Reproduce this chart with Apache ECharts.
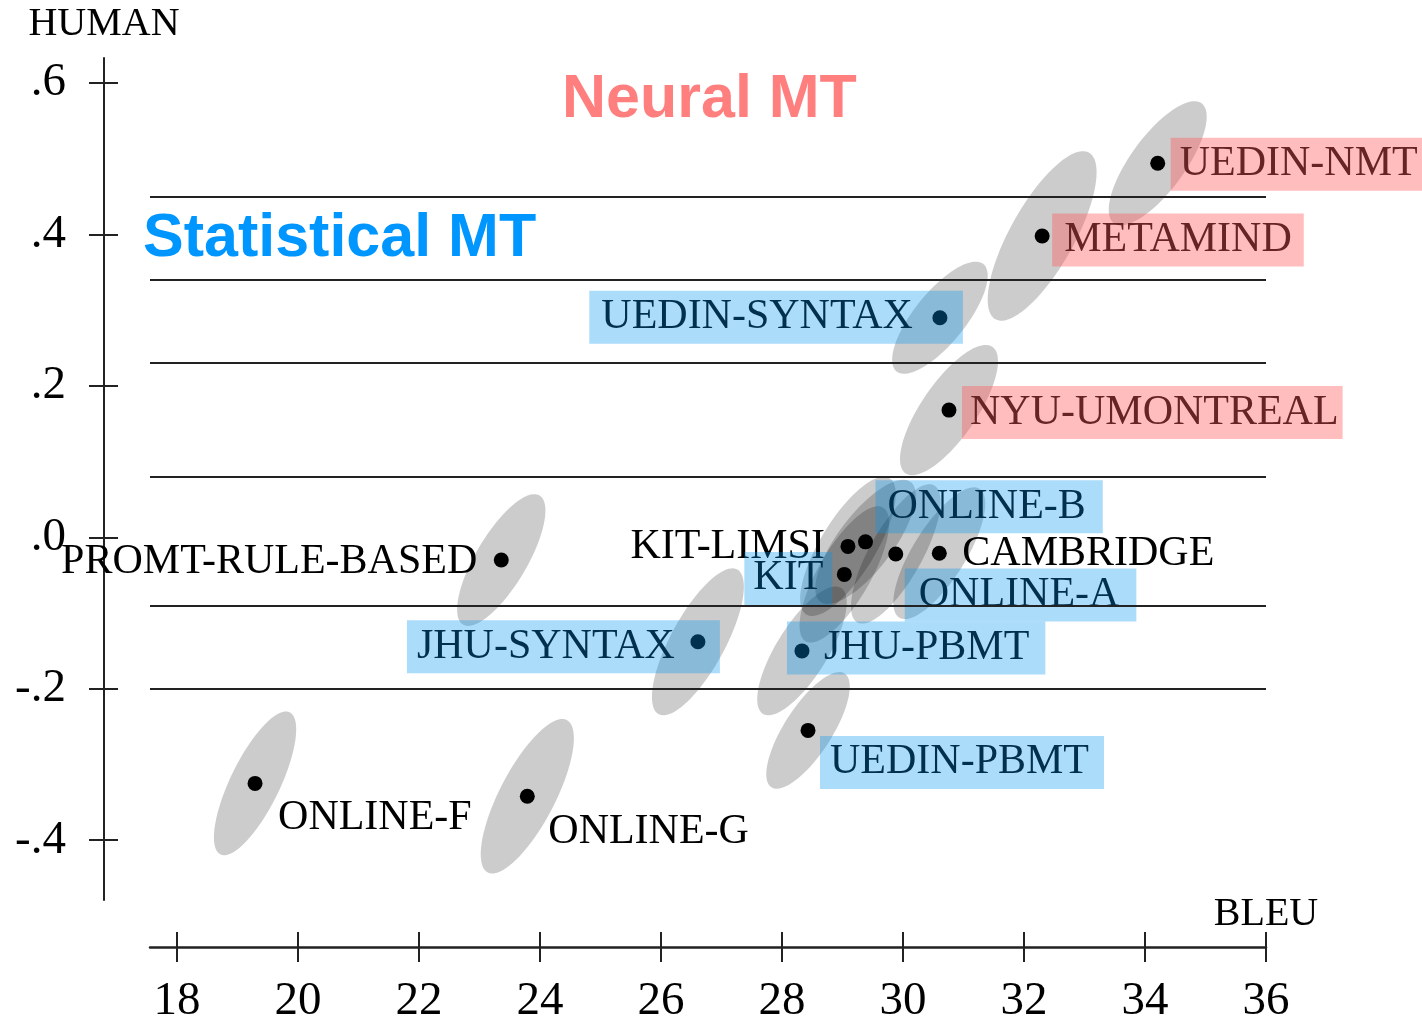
<!DOCTYPE html>
<html>
<head>
<meta charset="utf-8">
<title>BLEU vs HUMAN</title>
<script src="https://cdn.jsdelivr.net/npm/echarts@6/dist/echarts.min.js"></script>
<style>
  html, body { margin: 0; padding: 0; background: #fff; }
  #chart { width: 1422px; height: 1021px; }
</style>
</head>
<body>
<div id="chart"></div>
<script>
// systems, scores
var systems = ['ONLINE-F', 'ONLINE-G', 'PROMT-RULE-BASED', 'JHU-SYNTAX', 'UEDIN-PBMT', 'JHU-PBMT',
  'KIT-LIMSI', 'KIT', 'ONLINE-A', 'CAMBRIDGE', 'ONLINE-B', 'NYU-UMONTREAL', 'UEDIN-SYNTAX', 'METAMIND', 'UEDIN-NMT'];
var bleu  = [19.29, 23.79, 23.36, 26.61, 28.43, 28.33, 29.09, 29.03, 29.88, 30.60, 29.38, 30.76, 30.61, 32.30, 34.21];
var human = [-0.325, -0.342, -0.030, -0.138, -0.255, -0.150, -0.012, -0.049, -0.022, -0.021, -0.006, 0.168, 0.290, 0.398, 0.494];
// kind of system: nmt (red box), smt (blue box), plain
var kinds = ['plain', 'plain', 'plain', 'smt', 'smt', 'smt', 'plain', 'smt', 'smt', 'plain', 'smt', 'nmt', 'smt', 'nmt', 'nmt'];
// half spread of the confidence ellipses (BLEU units, HUMAN units)
var spreadBleu  = [0.68, 0.77, 0.73, 0.76, 0.69, 0.74, 0.79, 0.74, 0.74, 0.76, 0.83, 0.81, 0.79, 0.90, 0.81];
var spreadHuman = [0.095, 0.102, 0.087, 0.097, 0.077, 0.085, 0.092, 0.090, 0.092, 0.087, 0.082, 0.086, 0.074, 0.112, 0.082];
// cluster boundaries
var clusterLines = [0.445, 0.344, 0.229, 0.081, -0.0935, -0.202];
// ticks
var xTicks = [18, 20, 22, 24, 26, 28, 30, 32, 34, 36];
var yTicks = [-0.4, -0.2, 0, 0.2, 0.4, 0.6];

var SERIF = '"Liberation Serif", "Times New Roman", serif';
var SANS = '"Liberation Sans", Arial, Helvetica, sans-serif';
var RHO = 0.75;

// label placement relative to the dot (pixels)
var labelLayout = {
  'UEDIN-NMT':        { align: 'left',  dx: 13,  dy: 1,   pad: [6, 8, 6, 9] },
  'METAMIND':         { align: 'left',  dx: 10,  dy: 4,   pad: [6, 12, 6, 12] },
  'NYU-UMONTREAL':    { align: 'left',  dx: 13,  dy: 2.5, pad: [6, 4, 6, 8] },
  'UEDIN-SYNTAX':     { align: 'right', dx: 23,  dy: -0.5, pad: [6, 50, 6, 12] },
  'ONLINE-B':         { align: 'left',  dx: 10,  dy: -35, pad: [6, 17, 6, 12] },
  'KIT':              { align: 'right', dx: -12, dy: 4,   pad: [6, 9, 6, 9] },
  'ONLINE-A':         { align: 'left',  dx: 9,   dy: 41,  pad: [6, 17, 6, 14] },
  'JHU-PBMT':         { align: 'left',  dx: -15, dy: -3,  pad: [6, 16, 6, 37] },
  'JHU-SYNTAX':       { align: 'right', dx: 22,  dy: 5,   pad: [6, 45, 6, 10] },
  'UEDIN-PBMT':       { align: 'left',  dx: 12,  dy: 32,  pad: [6, 15, 6, 10] },
  'KIT-LIMSI':        { align: 'right', dx: -23, dy: 1 },
  'CAMBRIDGE':        { align: 'left',  dx: 23,  dy: 1 },
  'PROMT-RULE-BASED': { align: 'right', dx: -24, dy: 2 },
  'ONLINE-F':         { align: 'left',  dx: 23,  dy: 35 },
  'ONLINE-G':         { align: 'left',  dx: 21,  dy: 35.5 }
};
var boxStyle = {
  nmt: { color: '#662424', bg: 'rgba(255,90,90,0.4)' },
  smt: { color: '#00304e', bg: 'rgba(0,150,240,0.33)' },
  plain: { color: '#000', bg: 'transparent' }
};

var chart = echarts.init(document.getElementById('chart'));

var ellipseData = systems.map(function (n, i) {
  return [bleu[i], human[i], spreadBleu[i], spreadHuman[i]];
});

var pointData = systems.map(function (n, i) {
  var L = labelLayout[n];
  var s = boxStyle[kinds[i]];
  return {
    name: n,
    value: [bleu[i], human[i]],
    label: {
      show: true,
      formatter: '{b}',
      position: 'inside',
      align: L.align,
      verticalAlign: 'middle',
      offset: [L.dx, L.dy],
      fontFamily: SERIF,
      fontSize: 42,
      lineHeight: 41,
      color: s.color,
      opacity: 1,
      backgroundColor: s.bg,
      padding: L.pad || 0,
      textBorderWidth: 0
    }
  };
});

function yFmt(v) {
  return v.toFixed(1).replace('0.', '.');
}

chart.setOption({
  animation: false,
  backgroundColor: '#fff',
  title: [
    { text: 'Neural MT', left: 562, top: 70, padding: 0,
      textStyle: { fontFamily: SANS, fontWeight: 'bold', fontSize: 61, color: '#ff7f7f' } },
    { text: 'Statistical MT', left: 143, top: 209, padding: 0,
      textStyle: { fontFamily: SANS, fontWeight: 'bold', fontSize: 61, color: '#0096ff' } }
  ],
  grid: { left: 150, right: 156, top: 58, bottom: 121, containLabel: false, outerBoundsMode: 'none' },
  xAxis: [
    {
      type: 'value', min: 17.5537, max: 36, position: 'bottom', offset: 47,
      name: 'BLEU', nameLocation: 'end', nameGap: 0,
      nameTextStyle: { fontFamily: SERIF, fontSize: 40, color: '#000', align: 'center', verticalAlign: 'bottom', padding: [0, 0, 13, 0] },
      axisLine: { show: true, onZero: false, lineStyle: { color: '#222', width: 2.5 } },
      axisTick: { show: true, customValues: xTicks, length: 15, lineStyle: { color: '#222', width: 2 } },
      axisLabel: { show: true, customValues: xTicks, margin: 31, fontFamily: SERIF, fontSize: 47, color: '#000' },
      splitLine: { show: false }
    },
    {
      type: 'value', min: 17.5537, max: 36, position: 'bottom', offset: 47,
      axisLine: { show: false, onZero: false },
      axisTick: { show: true, inside: true, customValues: xTicks, length: 15, lineStyle: { color: '#222', width: 2 } },
      axisLabel: { show: false },
      splitLine: { show: false }
    }
  ],
  yAxis: [
    {
      type: 'value', min: -0.479, max: 0.633, position: 'left', offset: 46,
      name: 'HUMAN', nameLocation: 'end', nameGap: 14,
      nameTextStyle: { fontFamily: SERIF, fontSize: 40, color: '#000' },
      axisLine: { show: true, onZero: false, lineStyle: { color: '#222', width: 2 } },
      axisTick: { show: true, customValues: yTicks, length: 15, lineStyle: { color: '#222', width: 2 } },
      axisLabel: { show: true, customValues: yTicks, margin: 38, formatter: yFmt, fontFamily: SERIF, fontSize: 47, color: '#000' },
      splitLine: { show: false }
    },
    {
      type: 'value', min: -0.479, max: 0.633, position: 'left', offset: 46,
      axisLine: { show: false, onZero: false },
      axisTick: { show: true, inside: true, customValues: yTicks, length: 14, lineStyle: { color: '#222', width: 2 } },
      axisLabel: { show: false },
      splitLine: { show: false }
    }
  ],
  series: [
    {
      type: 'custom',
      z: 1,
      silent: true,
      encode: { x: 0, y: 1 },
      data: ellipseData,
      renderItem: function (params, api) {
        var cx = api.value(0), cy = api.value(1), sx = api.value(2), sy = api.value(3);
        var pts = [];
        var k = Math.sqrt(1 - RHO * RHO);
        for (var j = 0; j < 90; j++) {
          var t = j / 90 * Math.PI * 2;
          pts.push(api.coord([cx + sx * Math.cos(t), cy + sy * (RHO * Math.cos(t) + k * Math.sin(t))]));
        }
        return { type: 'polygon', shape: { points: pts }, style: { fill: 'rgba(0,0,0,0.2)' } };
      },
      markLine: {
        silent: true,
        symbol: 'none',
        label: { show: false },
        lineStyle: { color: '#222', width: 2, type: 'solid' },
        data: clusterLines.map(function (v) { return { yAxis: v }; })
      }
    },
    {
      type: 'scatter',
      z: 3,
      symbol: 'circle',
      symbolSize: 15,
      itemStyle: { color: '#000', opacity: 1 },
      emphasis: { disabled: true },
      data: pointData
    }
  ]
});
</script>
</body>
</html>
